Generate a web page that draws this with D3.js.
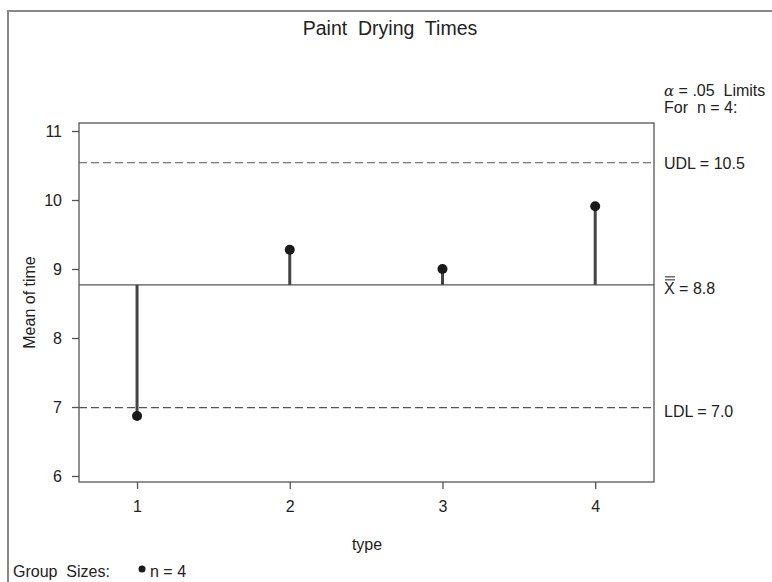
<!DOCTYPE html>
<html>
<head>
<meta charset="utf-8">
<script src="https://cdn.jsdelivr.net/npm/d3@7"></script>
<style>
  body { margin: 0; background: #fff; }
  text { font-family: "Liberation Sans", Arial, sans-serif; fill: #222; white-space: pre; }
</style>
</head>
<body>
<svg id="chart" width="772" height="582"></svg>
<script>
// data
var types = [1, 2, 3, 4];
var means = [6.87, 9.28, 9.00, 9.91];
var centre = 8.77;
var udl = 10.54;
var ldl = 6.99;
var yTicks = [6, 7, 8, 9, 10, 11];

var svg = d3.select('#chart');

var fLeft = 79, fRight = 654, fTop = 123, fBottom = 482;

var x = d3.scaleLinear().domain([0.62, 4.385]).range([fLeft, fRight]);
var y = d3.scaleLinear().domain([6, 11]).range([476, 131]);

// outer border (cropped on right/bottom)
svg.append('path')
    .attr('d', 'M8,590V11H790')
    .attr('fill', 'none')
    .attr('stroke', '#888')
    .attr('stroke-width', 2);

svg.append('text')
    .attr('x', 390).attr('y', 35)
    .attr('text-anchor', 'middle')
    .style('font-size', '19.5px')
    .text('Paint  Drying  Times');

// limits
svg.selectAll('.lim')
    .data([udl, ldl])
    .join('line')
    .attr('class', 'lim')
    .attr('x1', fLeft).attr('x2', fRight)
    .attr('y1', d => y(d)).attr('y2', d => y(d))
    .attr('stroke', '#555')
    .attr('stroke-width', 1.2)
    .attr('stroke-dasharray', '8,4');

svg.append('line')
    .attr('x1', fLeft).attr('x2', fRight)
    .attr('y1', y(centre)).attr('y2', y(centre))
    .attr('stroke', '#555')
    .attr('stroke-width', 1.3);

// frame
svg.append('rect')
    .attr('x', fLeft).attr('y', fTop)
    .attr('width', fRight - fLeft).attr('height', fBottom - fTop)
    .attr('fill', 'none')
    .attr('stroke', '#555')
    .attr('stroke-width', 1.3);

// axes
var yAxis = d3.axisLeft(y).tickValues(yTicks).tickFormat(d3.format('d')).tickSize(7).tickPadding(10);
var gy = svg.append('g').attr('transform', `translate(${fLeft},0)`).call(yAxis);
gy.select('.domain').remove();

var xAxis = d3.axisBottom(x).tickValues(types).tickFormat(d3.format('d')).tickSize(7).tickPadding(12);
var gx = svg.append('g').attr('transform', `translate(0,${fBottom})`).call(xAxis);
gx.select('.domain').remove();

svg.selectAll('.tick line').attr('stroke', '#555').attr('stroke-width', 1.3);
svg.selectAll('.tick text')
    .style('font-size', '16px')
    .style('font-family', '"Liberation Sans", Arial, sans-serif')
    .attr('fill', '#222');

svg.append('text')
    .attr('transform', `translate(35,${(fTop + fBottom) / 2}) rotate(-90)`)
    .attr('text-anchor', 'middle')
    .style('font-size', '16px')
    .text('Mean of time');

svg.append('text')
    .attr('x', 367).attr('y', 550)
    .attr('text-anchor', 'middle')
    .style('font-size', '16px')
    .text('type');

// stems and points
var pts = types.map((t, i) => ({t: t, v: means[i]}));

svg.selectAll('.stem')
    .data(pts)
    .join('line')
    .attr('class', 'stem')
    .attr('x1', d => x(d.t)).attr('x2', d => x(d.t))
    .attr('y1', y(centre)).attr('y2', d => y(d.v))
    .attr('stroke', '#444')
    .attr('stroke-width', 3);

svg.selectAll('.pt')
    .data(pts)
    .join('circle')
    .attr('class', 'pt')
    .attr('cx', d => x(d.t)).attr('cy', d => y(d.v))
    .attr('r', 5)
    .attr('fill', '#1a1a1a');

// right-side labels
var lx = 664;
var lab = svg.append('g').style('font-size', '16px');
lab.append('text').attr('x', lx).attr('y', 96)
    .html('<tspan font-style="italic" font-family="DejaVu Serif" font-size="15px">α</tspan> = .05  Limits');
lab.append('text').attr('x', lx).attr('y', 113).text('For  n = 4:');
lab.append('text').attr('x', lx).attr('y', y(udl) + 6).text('UDL = 10.5');
lab.append('text').attr('x', lx).attr('y', y(centre) + 9).text('X = 8.8');
[5, 8].forEach(function (o) {
  lab.append('line').attr('x1', lx + 1).attr('x2', lx + 11)
      .attr('y1', y(centre) - o).attr('y2', y(centre) - o)
      .attr('stroke', '#222').attr('stroke-width', 1);
});
lab.append('text').attr('x', lx).attr('y', y(ldl) + 9).text('LDL = 7.0');

// group sizes legend
var g = svg.append('g').style('font-size', '16px');
g.append('text').attr('x', 13).attr('y', 577).text('Group  Sizes:');
g.append('circle').attr('cx', 142).attr('cy', 569).attr('r', 3.5).attr('fill', '#1a1a1a');
g.append('text').attr('x', 150).attr('y', 577).text('n = 4');
</script>
</body>
</html>
